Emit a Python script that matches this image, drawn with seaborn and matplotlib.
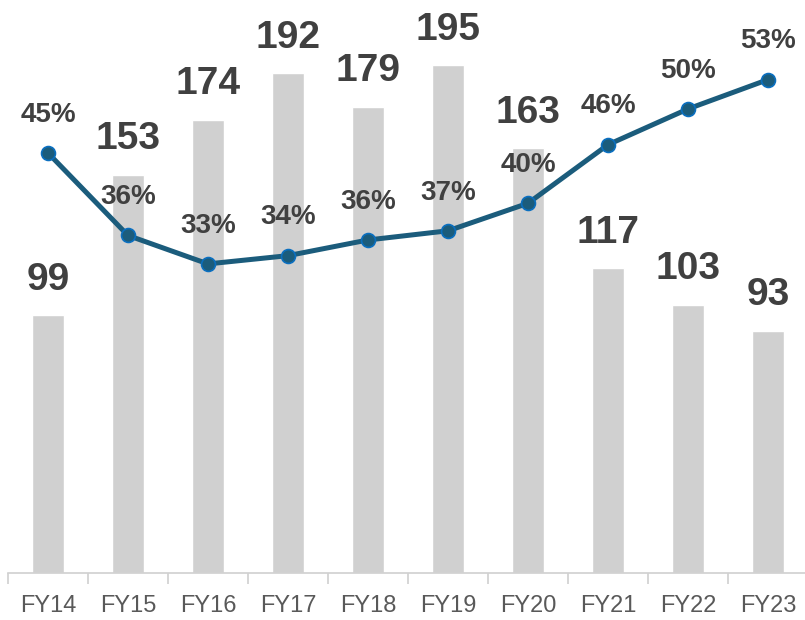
import numpy as np
import pandas as pd
import seaborn as sns
import matplotlib.pyplot as plt

years = ["FY14", "FY15", "FY16", "FY17", "FY18", "FY19", "FY20", "FY21", "FY22", "FY23"]
volumes = [99, 153, 174, 192, 179, 195, 163, 117, 103, 93]
# share values (labels show them rounded)
shares = [45.0, 36.0, 32.9, 33.8, 35.51, 36.51, 39.51, 45.9, 49.8, 53.0]

df = pd.DataFrame({"year": years, "volume": volumes, "share": shares})

sns.set_style("white")
plt.rcParams["font.family"] = ["Liberation Sans", "DejaVu Sans"]

fig = plt.figure(figsize=(8.05, 6.2), dpi=100)
ax = fig.add_axes([8 / 805, 47 / 620, 800 / 805, 573 / 620])

sns.barplot(data=df, x="year", y="volume", color="#d0d0d0", width=0.4,
            saturation=1, ax=ax)
ax.set_ylim(0, 220)
ax.set_xlim(-0.5, 9.5)

for i, v in enumerate(volumes):
    ax.annotate(str(v), (i, v), xytext=(0, 25.5), textcoords="offset points",
                ha="center", va="center", fontsize=28, fontweight="bold",
                color="#404040")

ax2 = ax.twinx()
x = np.arange(len(years))
sns.lineplot(x=x, y=shares, ax=ax2, color="#1b5c7c", linewidth=3.6,
             marker="o", markersize=10, markerfacecolor="#1b5c7c",
             markeredgecolor="#0a6fc0", markeredgewidth=1.2)
ax2.set_ylim(-0.81, 61.68)
for i, s in enumerate(shares):
    ax2.annotate(f"{round(s)}%", (i, s), xytext=(0, 27.5), textcoords="offset points",
                 ha="center", va="center", fontsize=20, fontweight="bold",
                 color="#404040")

for a in (ax, ax2):
    a.set_yticks([])
    a.set_ylabel("")
    for side in ["top", "right", "left", "bottom"]:
        a.spines[side].set_visible(False)

ax.spines["bottom"].set_visible(True)
ax.spines["bottom"].set_color("#d0d0d0")
ax.spines["bottom"].set_linewidth(1.2)
ax.set_xlabel("")
ax.set_xticks(x)
ax.set_xticklabels(years)
ax.tick_params(axis="x", which="major", length=0, pad=16, labelsize=17,
               labelcolor="#595959")
ax.set_xticks(np.arange(-0.5, 10, 1), minor=True)
ax.tick_params(axis="x", which="minor", length=8, width=1.2, color="#d0d0d0",
               direction="out", bottom=True)

fig.savefig("out.png", dpi=100)
